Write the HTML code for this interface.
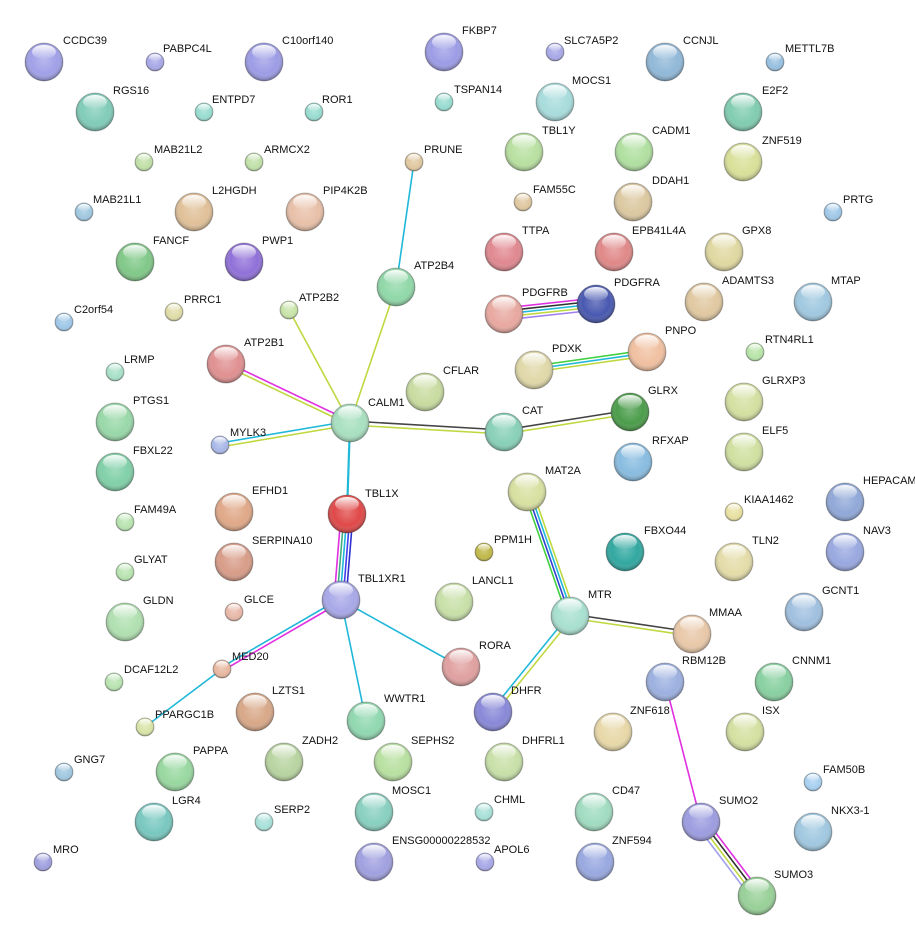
<!DOCTYPE html>
<html><head><meta charset="utf-8"><style>
html,body{margin:0;padding:0;background:#fff;}
svg{display:block;}
text{font-family:"Liberation Sans",Arial,sans-serif;font-size:11px;fill:#111;}
</style></head><body>
<svg width="915" height="941" viewBox="0 0 915 941" xmlns="http://www.w3.org/2000/svg">
<defs>
<radialGradient id="sh" cx="50%" cy="45%" r="55%">
<stop offset="0" stop-color="#fff" stop-opacity="0.25"/>
<stop offset="0.65" stop-color="#fff" stop-opacity="0"/>
<stop offset="1" stop-color="#000" stop-opacity="0.35"/>
</radialGradient>
<linearGradient id="hl" x1="0" y1="0" x2="0" y2="1">
<stop offset="0" stop-color="#fff" stop-opacity="0.95"/>
<stop offset="1" stop-color="#fff" stop-opacity="0.05"/>
</linearGradient>
<g id="B"><circle r="19" fill="url(#sh)" stroke="#000" stroke-opacity="0.25"/><ellipse cy="-10" rx="12" ry="7" fill="url(#hl)"/></g>
<g id="S"><circle r="9" fill="url(#sh)" stroke="#000" stroke-opacity="0.25"/><ellipse cy="-4.5" rx="6" ry="3.5" fill="url(#hl)"/></g>
</defs>

<g fill="none" stroke-width="1.6">
<line x1="414" y1="162" x2="396" y2="287" stroke="#20b8d8"/>
<line x1="396" y1="287" x2="350" y2="423" stroke="#c0d840"/>
<line x1="289" y1="310" x2="350" y2="423" stroke="#c0d840"/>
<line x1="226" y1="362" x2="350" y2="421" stroke="#e030e0"/>
<line x1="226" y1="366" x2="350" y2="425" stroke="#c0d840"/>
<line x1="220" y1="443" x2="350" y2="421" stroke="#20b8d8"/>
<line x1="220" y1="447" x2="350" y2="425" stroke="#c0d840"/>
<line x1="350" y1="421" x2="504" y2="430" stroke="#444"/>
<line x1="350" y1="425" x2="504" y2="434" stroke="#c0d840"/>
<line x1="504" y1="430" x2="630" y2="410" stroke="#444"/>
<line x1="504" y1="434" x2="630" y2="414" stroke="#c0d840"/>
<line x1="350" y1="423" x2="347" y2="513" stroke="#20b8d8" stroke-width="2.2"/>
<line x1="341" y1="514" x2="334" y2="600" stroke="#e030e0"/>
<line x1="344" y1="514" x2="337" y2="600" stroke="#40b080"/>
<line x1="347" y1="514" x2="340" y2="600" stroke="#20b8d8"/>
<line x1="350" y1="514" x2="343" y2="600" stroke="#4040f0"/>
<line x1="353" y1="514" x2="346" y2="600" stroke="#3030d0"/>
<line x1="341" y1="598" x2="222" y2="667" stroke="#20b8d8"/>
<line x1="341" y1="602" x2="222" y2="671" stroke="#e030e0"/>
<line x1="222" y1="669" x2="145" y2="727" stroke="#20b8d8"/>
<line x1="341" y1="600" x2="366" y2="721" stroke="#20b8d8"/>
<line x1="341" y1="600" x2="461" y2="667" stroke="#20b8d8"/>
<line x1="504" y1="308" x2="596" y2="298" stroke="#e030e0"/>
<line x1="504" y1="311" x2="596" y2="301" stroke="#333"/>
<line x1="504" y1="314" x2="596" y2="304" stroke="#20b8d8"/>
<line x1="504" y1="317" x2="596" y2="307" stroke="#c0d840"/>
<line x1="504" y1="320" x2="596" y2="310" stroke="#a080f0"/>
<line x1="534" y1="366" x2="647" y2="350" stroke="#40d040"/>
<line x1="534" y1="369" x2="647" y2="353" stroke="#20b8d8"/>
<line x1="534" y1="372" x2="647" y2="356" stroke="#c0d840"/>
<line x1="524" y1="492" x2="567" y2="616" stroke="#40d040"/>
<line x1="527" y1="492" x2="570" y2="616" stroke="#3040d0"/>
<line x1="530" y1="492" x2="573" y2="616" stroke="#20b8d8"/>
<line x1="533" y1="492" x2="576" y2="616" stroke="#c0d840"/>
<line x1="570" y1="614" x2="692" y2="632" stroke="#444"/>
<line x1="570" y1="618" x2="692" y2="636" stroke="#c0d840"/>
<line x1="568" y1="616" x2="491" y2="711" stroke="#20b8d8"/>
<line x1="572" y1="618" x2="495" y2="713" stroke="#c0d840"/>
<line x1="665" y1="682" x2="701" y2="822" stroke="#e030e0"/>
<line x1="706" y1="820" x2="762" y2="894" stroke="#e030e0"/>
<line x1="703" y1="822" x2="759" y2="896" stroke="#333"/>
<line x1="700" y1="824" x2="756" y2="898" stroke="#c0d840"/>
<line x1="697" y1="826" x2="753" y2="900" stroke="#a0a0f0"/>
</g>

<g>
<circle cx="44" cy="62" r="19" fill="#a0a0e8"/><use href="#B" x="44" y="62"/><text x="63" y="44">CCDC39</text>
<circle cx="155" cy="62" r="9" fill="#a8a8e8"/><use href="#S" x="155" y="62"/><text x="163" y="52">PABPC4L</text>
<circle cx="264" cy="62" r="19" fill="#9c9ce6"/><use href="#B" x="264" y="62"/><text x="282" y="44">C10orf140</text>
<circle cx="444" cy="52" r="19" fill="#9c9ce6"/><use href="#B" x="444" y="52"/><text x="462" y="34">FKBP7</text>
<circle cx="555" cy="52" r="9" fill="#a8a8e8"/><use href="#S" x="555" y="52"/><text x="564" y="44">SLC7A5P2</text>
<circle cx="665" cy="62" r="19" fill="#90b8d8"/><use href="#B" x="665" y="62"/><text x="683" y="44">CCNJL</text>
<circle cx="775" cy="62" r="9" fill="#98c0e0"/><use href="#S" x="775" y="62"/><text x="785" y="52">METTL7B</text>
<circle cx="95" cy="112" r="19" fill="#80ccb8"/><use href="#B" x="95" y="112"/><text x="113" y="94">RGS16</text>
<circle cx="204" cy="112" r="9" fill="#98dcd0"/><use href="#S" x="204" y="112"/><text x="212" y="103">ENTPD7</text>
<circle cx="314" cy="112" r="9" fill="#98dcd0"/><use href="#S" x="314" y="112"/><text x="322" y="103">ROR1</text>
<circle cx="444" cy="102" r="9" fill="#98dcd0"/><use href="#S" x="444" y="102"/><text x="454" y="93">TSPAN14</text>
<circle cx="555" cy="102" r="19" fill="#a8dcdc"/><use href="#B" x="555" y="102"/><text x="572" y="84">MOCS1</text>
<circle cx="743" cy="112" r="19" fill="#80ccb0"/><use href="#B" x="743" y="112"/><text x="762" y="94">E2F2</text>
<circle cx="144" cy="162" r="9" fill="#c0e0a8"/><use href="#S" x="144" y="162"/><text x="154" y="153">MAB21L2</text>
<circle cx="254" cy="162" r="9" fill="#c0e0a8"/><use href="#S" x="254" y="162"/><text x="264" y="153">ARMCX2</text>
<circle cx="414" cy="162" r="9" fill="#e0c8a0"/><use href="#S" x="414" y="162"/><text x="424" y="153">PRUNE</text>
<circle cx="524" cy="152" r="19" fill="#b8e0a0"/><use href="#B" x="524" y="152"/><text x="542" y="134">TBL1Y</text>
<circle cx="634" cy="152" r="19" fill="#b0e0a0"/><use href="#B" x="634" y="152"/><text x="652" y="134">CADM1</text>
<circle cx="743" cy="162" r="19" fill="#d8e098"/><use href="#B" x="743" y="162"/><text x="762" y="144">ZNF519</text>
<circle cx="523" cy="202" r="9" fill="#e0c8a0"/><use href="#S" x="523" y="202"/><text x="533" y="193">FAM55C</text>
<circle cx="633" cy="202" r="19" fill="#dcc8a0"/><use href="#B" x="633" y="202"/><text x="652" y="184">DDAH1</text>
<circle cx="84" cy="212" r="9" fill="#a0c8e0"/><use href="#S" x="84" y="212"/><text x="93" y="203">MAB21L1</text>
<circle cx="194" cy="212" r="19" fill="#e0c098"/><use href="#B" x="194" y="212"/><text x="212" y="194">L2HGDH</text>
<circle cx="305" cy="212" r="19" fill="#e8c0a8"/><use href="#B" x="305" y="212"/><text x="323" y="194">PIP4K2B</text>
<circle cx="833" cy="212" r="9" fill="#a0c8e8"/><use href="#S" x="833" y="212"/><text x="843" y="203">PRTG</text>
<circle cx="135" cy="262" r="19" fill="#80c888"/><use href="#B" x="135" y="262"/><text x="153" y="244">FANCF</text>
<circle cx="244" cy="262" r="19" fill="#9070d8"/><use href="#B" x="244" y="262"/><text x="262" y="244">PWP1</text>
<circle cx="504" cy="252" r="19" fill="#e08890"/><use href="#B" x="504" y="252"/><text x="522" y="234">TTPA</text>
<circle cx="614" cy="252" r="19" fill="#e08888"/><use href="#B" x="614" y="252"/><text x="632" y="234">EPB41L4A</text>
<circle cx="724" cy="252" r="19" fill="#e0d8a0"/><use href="#B" x="724" y="252"/><text x="742" y="234">GPX8</text>
<circle cx="396" cy="287" r="19" fill="#90d8a8"/><use href="#B" x="396" y="287"/><text x="414" y="269">ATP2B4</text>
<circle cx="64" cy="322" r="9" fill="#a0c8e8"/><use href="#S" x="64" y="322"/><text x="74" y="313">C2orf54</text>
<circle cx="174" cy="312" r="9" fill="#e0dca8"/><use href="#S" x="174" y="312"/><text x="184" y="303">PRRC1</text>
<circle cx="289" cy="310" r="9" fill="#c8e4a8"/><use href="#S" x="289" y="310"/><text x="299" y="301">ATP2B2</text>
<circle cx="504" cy="314" r="19" fill="#e8a8a0"/><use href="#B" x="504" y="314"/><text x="522" y="296">PDGFRB</text>
<circle cx="596" cy="304" r="19" fill="#4858b0"/><use href="#B" x="596" y="304"/><text x="614" y="286">PDGFRA</text>
<circle cx="704" cy="302" r="19" fill="#e0c8a0"/><use href="#B" x="704" y="302"/><text x="722" y="284">ADAMTS3</text>
<circle cx="813" cy="302" r="19" fill="#a0c8e0"/><use href="#B" x="813" y="302"/><text x="831" y="284">MTAP</text>
<circle cx="226" cy="364" r="19" fill="#e09090"/><use href="#B" x="226" y="364"/><text x="244" y="346">ATP2B1</text>
<circle cx="115" cy="372" r="9" fill="#a8e0c8"/><use href="#S" x="115" y="372"/><text x="124" y="363">LRMP</text>
<circle cx="534" cy="370" r="19" fill="#e0d8a8"/><use href="#B" x="534" y="370"/><text x="552" y="352">PDXK</text>
<circle cx="647" cy="352" r="19" fill="#f0c0a0"/><use href="#B" x="647" y="352"/><text x="665" y="334">PNPO</text>
<circle cx="755" cy="352" r="9" fill="#b8e4a8"/><use href="#S" x="755" y="352"/><text x="765" y="343">RTN4RL1</text>
<circle cx="425" cy="392" r="19" fill="#c8dca0"/><use href="#B" x="425" y="392"/><text x="443" y="374">CFLAR</text>
<circle cx="744" cy="402" r="19" fill="#d4e0a0"/><use href="#B" x="744" y="402"/><text x="762" y="384">GLRXP3</text>
<circle cx="115" cy="422" r="19" fill="#98d8a8"/><use href="#B" x="115" y="422"/><text x="133" y="404">PTGS1</text>
<circle cx="350" cy="423" r="19" fill="#a8e0c0"/><use href="#B" x="350" y="423"/><text x="368" y="406">CALM1</text>
<circle cx="220" cy="445" r="9" fill="#a8b8e8"/><use href="#S" x="220" y="445"/><text x="230" y="436">MYLK3</text>
<circle cx="504" cy="432" r="19" fill="#88d0b8"/><use href="#B" x="504" y="432"/><text x="522" y="414">CAT</text>
<circle cx="630" cy="412" r="19" fill="#4a9c4a"/><use href="#B" x="630" y="412"/><text x="648" y="394">GLRX</text>
<circle cx="633" cy="462" r="19" fill="#88bce0"/><use href="#B" x="633" y="462"/><text x="652" y="444">RFXAP</text>
<circle cx="744" cy="452" r="19" fill="#d0e0a0"/><use href="#B" x="744" y="452"/><text x="762" y="434">ELF5</text>
<circle cx="115" cy="472" r="19" fill="#80d0a8"/><use href="#B" x="115" y="472"/><text x="133" y="454">FBXL22</text>
<circle cx="234" cy="512" r="19" fill="#e0a888"/><use href="#B" x="234" y="512"/><text x="252" y="494">EFHD1</text>
<circle cx="347" cy="514" r="19" fill="#e04848"/><use href="#B" x="347" y="514"/><text x="365" y="497">TBL1X</text>
<circle cx="527" cy="492" r="19" fill="#d8e0a0"/><use href="#B" x="527" y="492"/><text x="545" y="474">MAT2A</text>
<circle cx="734" cy="512" r="9" fill="#e8e0a0"/><use href="#S" x="734" y="512"/><text x="744" y="503">KIAA1462</text>
<circle cx="845" cy="502" r="19" fill="#90a8d8"/><use href="#B" x="845" y="502"/><text x="863" y="484">HEPACAM</text>
<circle cx="125" cy="522" r="9" fill="#b8e4b0"/><use href="#S" x="125" y="522"/><text x="134" y="513">FAM49A</text>
<circle cx="845" cy="552" r="19" fill="#98a8e0"/><use href="#B" x="845" y="552"/><text x="863" y="534">NAV3</text>
<circle cx="234" cy="562" r="19" fill="#d89c88"/><use href="#B" x="234" y="562"/><text x="252" y="544">SERPINA10</text>
<circle cx="484" cy="552" r="9" fill="#c0b848"/><use href="#S" x="484" y="552"/><text x="494" y="543">PPM1H</text>
<circle cx="625" cy="552" r="19" fill="#30a8a0"/><use href="#B" x="625" y="552"/><text x="644" y="534">FBXO44</text>
<circle cx="734" cy="562" r="19" fill="#e4dca8"/><use href="#B" x="734" y="562"/><text x="752" y="544">TLN2</text>
<circle cx="125" cy="572" r="9" fill="#b8e4b0"/><use href="#S" x="125" y="572"/><text x="134" y="563">GLYAT</text>
<circle cx="341" cy="600" r="19" fill="#a8a8e8"/><use href="#B" x="341" y="600"/><text x="358" y="582">TBL1XR1</text>
<circle cx="125" cy="622" r="19" fill="#b0e0b0"/><use href="#B" x="125" y="622"/><text x="143" y="604">GLDN</text>
<circle cx="234" cy="612" r="9" fill="#e8b8a8"/><use href="#S" x="234" y="612"/><text x="244" y="603">GLCE</text>
<circle cx="454" cy="602" r="19" fill="#c8e0a8"/><use href="#B" x="454" y="602"/><text x="472" y="584">LANCL1</text>
<circle cx="570" cy="616" r="19" fill="#a8e0d0"/><use href="#B" x="570" y="616"/><text x="588" y="598">MTR</text>
<circle cx="804" cy="612" r="19" fill="#a0c0e0"/><use href="#B" x="804" y="612"/><text x="822" y="594">GCNT1</text>
<circle cx="692" cy="634" r="19" fill="#e8c8a8"/><use href="#B" x="692" y="634"/><text x="709" y="616">MMAA</text>
<circle cx="222" cy="669" r="9" fill="#e8b8a0"/><use href="#S" x="222" y="669"/><text x="232" y="660">MED20</text>
<circle cx="114" cy="682" r="9" fill="#b8e4b0"/><use href="#S" x="114" y="682"/><text x="124" y="673">DCAF12L2</text>
<circle cx="461" cy="667" r="19" fill="#e0a0a0"/><use href="#B" x="461" y="667"/><text x="479" y="649">RORA</text>
<circle cx="665" cy="682" r="19" fill="#9cb0e0"/><use href="#B" x="665" y="682"/><text x="682" y="664">RBM12B</text>
<circle cx="774" cy="682" r="19" fill="#88d0a0"/><use href="#B" x="774" y="682"/><text x="792" y="664">CNNM1</text>
<circle cx="255" cy="712" r="19" fill="#d8a888"/><use href="#B" x="255" y="712"/><text x="272" y="694">LZTS1</text>
<circle cx="366" cy="721" r="19" fill="#90d8b0"/><use href="#B" x="366" y="721"/><text x="384" y="702">WWTR1</text>
<circle cx="493" cy="712" r="19" fill="#8888d8"/><use href="#B" x="493" y="712"/><text x="511" y="694">DHFR</text>
<circle cx="145" cy="727" r="9" fill="#d8e4a8"/><use href="#S" x="145" y="727"/><text x="155" y="718">PPARGC1B</text>
<circle cx="613" cy="732" r="19" fill="#e8d8a8"/><use href="#B" x="613" y="732"/><text x="630" y="714">ZNF618</text>
<circle cx="745" cy="732" r="19" fill="#d4e0a0"/><use href="#B" x="745" y="732"/><text x="762" y="714">ISX</text>
<circle cx="284" cy="762" r="19" fill="#b8d4a0"/><use href="#B" x="284" y="762"/><text x="302" y="744">ZADH2</text>
<circle cx="393" cy="762" r="19" fill="#b8e0a0"/><use href="#B" x="393" y="762"/><text x="411" y="744">SEPHS2</text>
<circle cx="504" cy="762" r="19" fill="#c8e0a8"/><use href="#B" x="504" y="762"/><text x="522" y="744">DHFRL1</text>
<circle cx="175" cy="772" r="19" fill="#98d8a0"/><use href="#B" x="175" y="772"/><text x="193" y="754">PAPPA</text>
<circle cx="64" cy="772" r="9" fill="#a0c8e0"/><use href="#S" x="64" y="772"/><text x="74" y="763">GNG7</text>
<circle cx="813" cy="782" r="9" fill="#a8d0f0"/><use href="#S" x="813" y="782"/><text x="823" y="773">FAM50B</text>
<circle cx="484" cy="812" r="9" fill="#a8e0d8"/><use href="#S" x="484" y="812"/><text x="494" y="803">CHML</text>
<circle cx="594" cy="812" r="19" fill="#a0dcc0"/><use href="#B" x="594" y="812"/><text x="612" y="794">CD47</text>
<circle cx="154" cy="822" r="19" fill="#78c8c0"/><use href="#B" x="154" y="822"/><text x="172" y="804">LGR4</text>
<circle cx="264" cy="822" r="9" fill="#a8e0d8"/><use href="#S" x="264" y="822"/><text x="274" y="813">SERP2</text>
<circle cx="374" cy="812" r="19" fill="#88d0c0"/><use href="#B" x="374" y="812"/><text x="392" y="794">MOSC1</text>
<circle cx="701" cy="822" r="19" fill="#9c9ce0"/><use href="#B" x="701" y="822"/><text x="719" y="804">SUMO2</text>
<circle cx="813" cy="832" r="19" fill="#a0c8e0"/><use href="#B" x="813" y="832"/><text x="831" y="814">NKX3-1</text>
<circle cx="43" cy="862" r="9" fill="#a0a0e0"/><use href="#S" x="43" y="862"/><text x="53" y="853">MRO</text>
<circle cx="374" cy="862" r="19" fill="#a0a0e0"/><use href="#B" x="374" y="862"/><text x="392" y="844">ENSG00000228532</text>
<circle cx="485" cy="862" r="9" fill="#a8a8e8"/><use href="#S" x="485" y="862"/><text x="494" y="853">APOL6</text>
<circle cx="595" cy="862" r="19" fill="#98a8e0"/><use href="#B" x="595" y="862"/><text x="612" y="844">ZNF594</text>
<circle cx="757" cy="896" r="19" fill="#98d098"/><use href="#B" x="757" y="896"/><text x="774" y="878">SUMO3</text>
</g>
</svg>
</body></html>
